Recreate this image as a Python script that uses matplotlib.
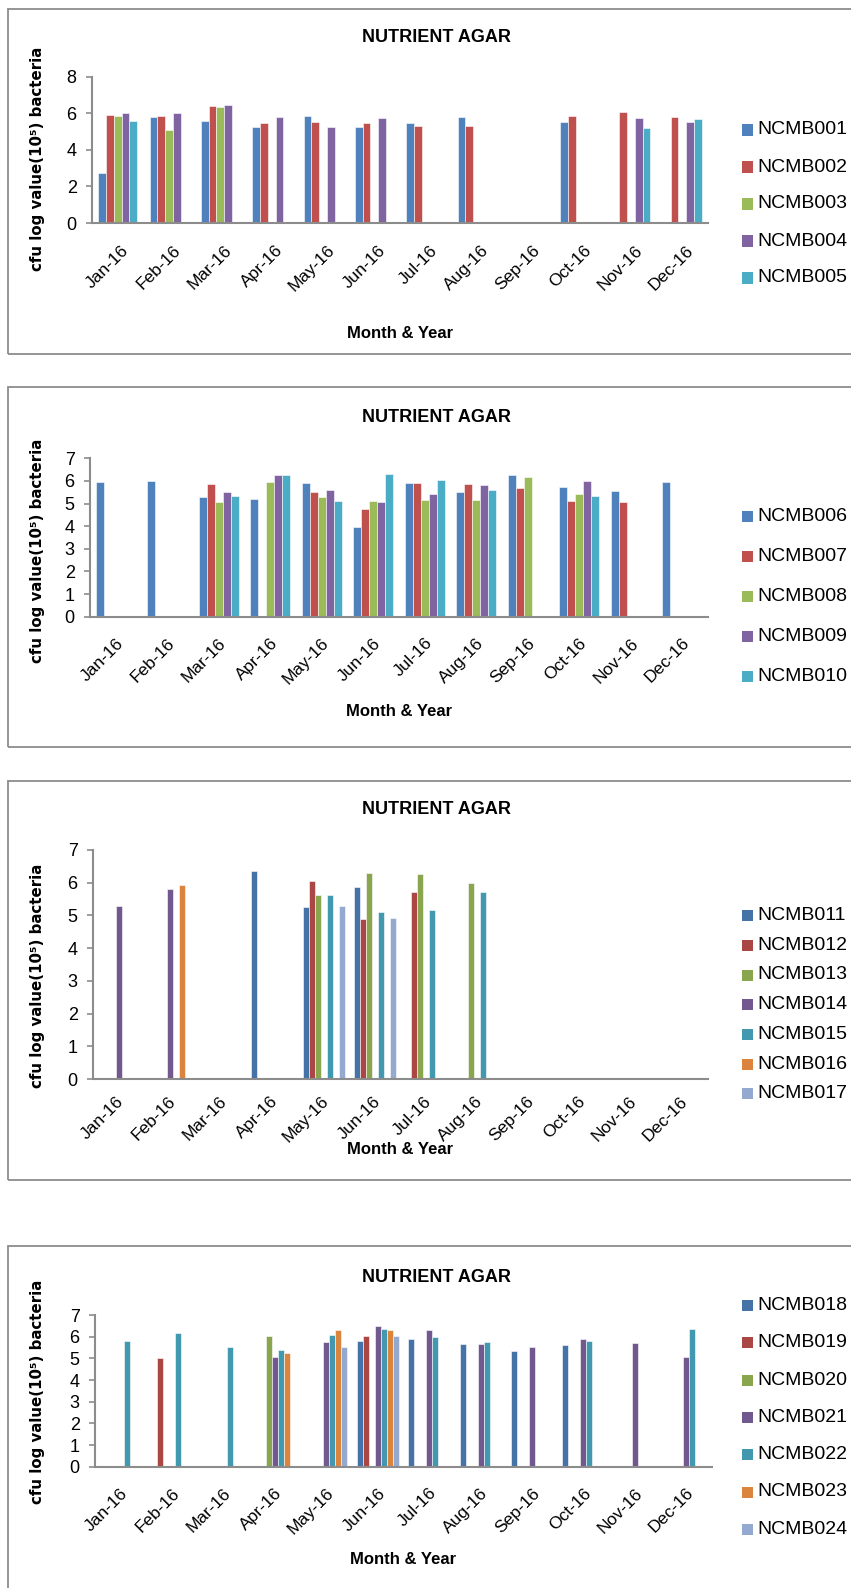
import matplotlib
matplotlib.use("Agg")
import matplotlib.pyplot as plt
from matplotlib.patches import Rectangle
from matplotlib.transforms import ScaledTranslation

W, H = 851, 1588

months = ["Jan-16", "Feb-16", "Mar-16", "Apr-16", "May-16", "Jun-16",
          "Jul-16", "Aug-16", "Sep-16", "Oct-16", "Nov-16", "Dec-16"]
N = None

names_1 = ["NCMB001", "NCMB002", "NCMB003", "NCMB004", "NCMB005"]
values_1 = [
    [2.72, 5.80, 5.56, 5.23, 5.83, 5.25, 5.48, 5.77, N, 5.50, N, N],
    [5.88, 5.84, 6.39, 5.48, 5.52, 5.48, 5.28, 5.30, N, 5.85, 6.05, 5.79],
    [5.85, 5.08, 6.34, N, N, N, N, N, N, N, N, N],
    [6.00, 6.00, 6.45, 5.81, 5.23, 5.75, N, N, N, N, 5.72, 5.50],
    [5.56, N, N, N, N, N, N, N, N, N, 5.19, 5.68],
]

names_2 = ["NCMB006", "NCMB007", "NCMB008", "NCMB009", "NCMB010"]
values_2 = [
    [5.95, 6.00, 5.30, 5.22, 5.90, 3.95, 5.90, 5.50, 6.24, 5.74, 5.56, 5.97],
    [N, N, 5.86, N, 5.50, 4.74, 5.92, 5.87, 5.69, 5.12, 5.06, N],
    [N, N, 5.05, 5.95, 5.30, 5.10, 5.15, 5.17, 6.17, 5.43, N, N],
    [N, N, 5.49, 6.24, 5.62, 5.08, 5.43, 5.80, N, 6.00, N, N],
    [N, N, 5.33, 6.28, 5.12, 6.31, 6.06, 5.60, N, 5.34, N, N],
]

names_3 = ["NCMB011", "NCMB012", "NCMB013", "NCMB014", "NCMB015", "NCMB016", "NCMB017"]
values_3 = [
    [N, N, N, 6.36, 5.27, 5.88, N, N, N, N, N, N],
    [N, N, N, N, 6.06, 4.90, 5.72, N, N, N, N, N],
    [N, N, N, N, 5.61, 6.30, 6.26, 5.98, N, N, N, N],
    [5.29, 5.81, N, N, N, N, N, N, N, N, N, N],
    [N, N, N, N, 5.61, 5.09, 5.17, 5.72, N, N, N, N],
    [N, 5.93, N, N, N, N, N, N, N, N, N, N],
    [N, N, N, N, 5.28, 4.93, N, N, N, N, N, N],
]

names_4 = ["NCMB018", "NCMB019", "NCMB020", "NCMB021", "NCMB022", "NCMB023", "NCMB024"]
values_4 = [
    [N, N, N, N, N, 5.80, 5.88, 5.65, 5.34, 5.62, N, N],
    [N, 5.00, N, N, N, 6.03, N, N, N, N, N, N],
    [N, N, N, 6.03, N, N, N, N, N, N, N, N],
    [N, N, N, 5.06, 5.74, 6.48, 6.32, 5.68, 5.51, 5.91, 5.71, 5.06],
    [5.80, 6.16, 5.51, 5.40, 6.08, 6.36, 6.00, 5.75, N, 5.82, N, 6.34],
    [N, N, N, 5.23, 6.31, 6.29, N, N, N, N, N, N],
    [N, N, N, N, 5.51, 6.03, N, N, N, N, N, N],
]

office = ["#4F81BD", "#C0504D", "#9BBB59", "#8064A2", "#4BACC6"]
office_dark = ["#4572A7", "#AA4643", "#89A54E", "#71588F", "#4198AF", "#DB843D", "#93A9CF"]

# pixel layout of each chart block (frame top/bottom, plot box, text rows)
panels = [
    dict(names=names_1, values=values_1, colors=office, ymax=8, ystep=2,
         frame=(9, 354), plot=(92, 708, 76.7, 223), title_y=38, xlabel_y=333,
         ylabel_y=159, leg_y0=130, leg_dy=37, group=0.75, lab_dx=9, lab_dy=25),
    dict(names=names_2, values=values_2, colors=office, ymax=7, ystep=1,
         frame=(387, 747), plot=(90, 708, 458.3, 616.7), title_y=417, xlabel_y=711,
         ylabel_y=551, leg_y0=516.5, leg_dy=40, group=0.78, lab_dx=5, lab_dy=24),
    dict(names=names_3, values=values_3, colors=office_dark, ymax=7, ystep=1,
         frame=(781, 1180), plot=(93, 708, 850, 1079), title_y=810, xlabel_y=1149,
         ylabel_y=976, leg_y0=915.6, leg_dy=29.7, group=0.82, lab_dx=3, lab_dy=20),
    dict(names=names_4, values=values_4, colors=office_dark, ymax=7, ystep=1,
         frame=(1246, 1600), plot=(95, 712, 1315, 1466.7), title_y=1277, xlabel_y=1560,
         ylabel_y=1392, leg_y0=1305.5, leg_dy=37.3, group=0.82, lab_dx=5, lab_dy=24),
]

BASE = "Liberation Sans"
GREY = "#8C8C8C"

fig = plt.figure(figsize=(W / 100, H / 100), dpi=100)


def fx(x):
    return x / W


def fy(y):
    return 1 - y / H


for p in panels:
    top, bottom = p["frame"]
    fig.add_artist(Rectangle((fx(8), fy(bottom)), fx(864 - 8), (bottom - top) / H,
                             transform=fig.transFigure, fill=False,
                             edgecolor=GREY, linewidth=1.3))

    x0, x1, ytop, ybot = p["plot"]
    ax = fig.add_axes([fx(x0), fy(ybot), fx(x1 - x0), (ybot - ytop) / H])

    n = len(p["names"])
    bw = p["group"] / n
    for i, (name, vals) in enumerate(zip(p["names"], p["values"])):
        xs = [m + (i - (n - 1) / 2) * bw for m, v in enumerate(vals) if v is not None]
        hs = [v for v in vals if v is not None]
        ax.bar(xs, hs, width=bw, color=p["colors"][i], edgecolor="white",
               linewidth=0.4, label=name)

    ax.set_xlim(-0.5, 11.5)
    ax.set_ylim(0, p["ymax"])
    ax.set_yticks(range(0, p["ymax"] + 1, p["ystep"]))
    ax.set_xticks(range(12))
    ax.set_xticklabels([])
    ax.tick_params(axis="x", length=0)
    ax.tick_params(axis="y", length=4, width=1.2, color=GREY, pad=7, labelsize=13)
    for lab in ax.get_yticklabels():
        lab.set_family(BASE)

    # slanted month labels, their right end hanging below each group
    month_tf = ax.get_xaxis_transform() + ScaledTranslation(
        p["lab_dx"] / 100, -p["lab_dy"] / 100, fig.dpi_scale_trans)
    for m, label in enumerate(months):
        ax.text(m, 0, label, transform=month_tf, rotation=45, rotation_mode="anchor",
                ha="right", va="center", fontsize=12.5, family=BASE)

    for side in ("top", "right"):
        ax.spines[side].set_visible(False)
    for side in ("left", "bottom"):
        ax.spines[side].set_color(GREY)
        ax.spines[side].set_linewidth(1.5)
    ax.set_facecolor("none")

    fig.text(fx(436), fy(p["title_y"]), "NUTRIENT AGAR", ha="center", va="center",
             fontsize=13, fontweight="bold", family=BASE)
    fig.text(fx((x0 + x1) / 2), fy(p["xlabel_y"]), "Month & Year", ha="center",
             va="center", fontsize=12, fontweight="bold", family=BASE)
    fig.text(fx(38), fy(p["ylabel_y"]), "cfu log value(10⁵) bacteria", rotation=90,
             ha="center", va="center", fontsize=10.8, fontweight="bold",
             family="DejaVu Sans")

    # legend column on the right
    for i, name in enumerate(p["names"]):
        yc = p["leg_y0"] + i * p["leg_dy"]
        fig.add_artist(Rectangle((fx(742), fy(yc + 5.5)), fx(11), 11 / H,
                                 transform=fig.transFigure,
                                 facecolor=p["colors"][i], edgecolor="none"))
        fig.text(fx(757), fy(yc), name, ha="left", va="center",
                 fontsize=14, family=BASE)

fig.savefig("out.png", dpi=100)
